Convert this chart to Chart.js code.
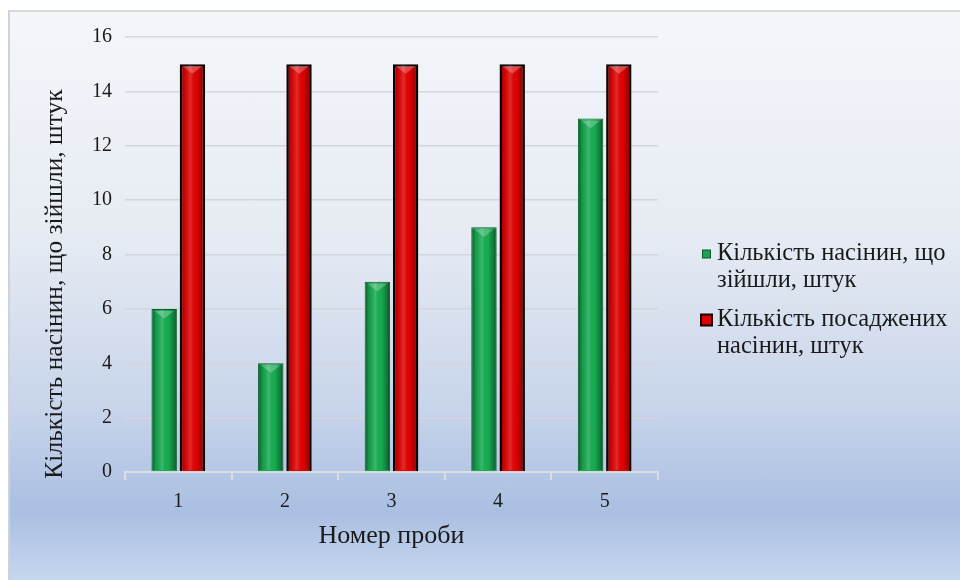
<!DOCTYPE html>
<html>
<head>
<meta charset="utf-8">
<script src="https://cdn.jsdelivr.net/npm/chart.js@4.4.1/dist/chart.umd.min.js"></script>
<style>
  html, body { margin: 0; padding: 0; background: #fff; }
  #box {
    position: absolute; left: 8px; top: 10px;
    width: 950px; height: 568px;
    border-left: 2px solid #cfd3d9; border-top: 2px solid #d6d9de;
    background: linear-gradient(to bottom, #f4f6fa 0%, #e6ebf3 40%, #c7d4ea 70%, #aabfe2 88%, #c6d6ee 100%);
  }
  canvas { display: block; }
</style>
</head>
<body>
<div id="box"><canvas id="chart" width="950" height="568"></canvas></div>
<script>
const categories = ["1", "2", "3", "4", "5"];
const sprouted = [6, 4, 7, 9, 13];
const planted = [15, 15, 15, 15, 15];
const seriesLabels = ["Кількість насінин, що зійшли, штук", "Кількість посаджених насінин, штук"];
const legendLines = [["Кількість насінин, що", "зійшли, штук"], ["Кількість посаджених", "насінин, штук"]];
const yTicks = [0, 2, 4, 6, 8, 10, 12, 14, 16];
const yTitle = "Кількість насінин, що зійшли, штук";
const xTitle = "Номер проби";

const serif = "'Liberation Serif', 'DejaVu Serif', serif";

// glossy cylinder look on each bar
const barShine = {
  id: "barShine",
  afterDatasetsDraw(chart) {
    const ctx = chart.ctx;
    chart.data.datasets.forEach((ds, i) => {
      chart.getDatasetMeta(i).data.forEach(bar => {
        const left = bar.x - bar.width / 2;
        const right = bar.x + bar.width / 2;
        const top = Math.min(bar.y, bar.base);
        const h = Math.abs(bar.base - bar.y);
        const g = ctx.createLinearGradient(left, 0, right, 0);
        g.addColorStop(0, "rgba(0,0,0,0.5)");
        g.addColorStop(0.18, "rgba(0,0,0,0.1)");
        g.addColorStop(0.42, "rgba(255,255,255,0.16)");
        g.addColorStop(0.65, "rgba(0,0,0,0)");
        g.addColorStop(0.88, "rgba(0,0,0,0.3)");
        g.addColorStop(1, "rgba(0,0,0,0.6)");
        ctx.save();
        ctx.fillStyle = g;
        ctx.fillRect(left + 1, top + 1, bar.width - 2, h - 2);
        // bevel on top face
        ctx.beginPath();
        ctx.moveTo(left + 3, top + 2);
        ctx.lineTo(right - 3, top + 2);
        ctx.lineTo(bar.x, top + bar.width * 0.38);
        ctx.closePath();
        ctx.fillStyle = "rgba(255,255,255,0.25)";
        ctx.fill();
        ctx.restore();
      });
    });
  }
};

// rotated y title, set a bit below the middle like in the source
const yTitlePlugin = {
  id: "yTitlePlugin",
  afterDraw(chart) {
    const ctx = chart.ctx;
    ctx.save();
    ctx.translate(45, 272);
    ctx.rotate(-Math.PI / 2);
    ctx.font = "25.5px " + serif;
    ctx.fillStyle = "#1a1a1a";
    ctx.textAlign = "center";
    ctx.textBaseline = "middle";
    ctx.fillText(yTitle, 0, 0);
    ctx.restore();
  }
};

// wrapped legend on the right
const sideLegend = {
  id: "sideLegend",
  afterDraw(chart) {
    const ctx = chart.ctx;
    const x = chart.chartArea.right + 43;
    const baseY = [248, 314];
    const marks = [
      { s: 8, fill: "#17a34f", line: "#0c5a2a", w: 1 },
      { s: 11, fill: "#d60000", line: "#1a0303", w: 2 }
    ];
    ctx.save();
    ctx.font = "24.5px " + serif;
    ctx.textBaseline = "alphabetic";
    chart.data.datasets.forEach((ds, i) => {
      const m = marks[i];
      const y0 = baseY[i];
      ctx.fillStyle = m.fill;
      ctx.fillRect(x + (11 - m.s) / 2, y0 - 6 - m.s / 2, m.s, m.s);
      ctx.strokeStyle = m.line;
      ctx.lineWidth = m.w;
      ctx.strokeRect(x + (11 - m.s) / 2, y0 - 6 - m.s / 2, m.s, m.s);
      ctx.fillStyle = "#1a1a1a";
      legendLines[i].forEach((line, k) => {
        ctx.fillText(line, x + 16, y0 + k * 27);
      });
    });
    ctx.restore();
  }
};

new Chart(document.getElementById("chart"), {
  type: "bar",
  data: {
    labels: categories,
    datasets: [
      {
        label: seriesLabels[0],
        data: sprouted,
        backgroundColor: "#17ad52",
        borderColor: "#0b5e2c",
        borderWidth: 1,
        categoryPercentage: 0.53,
        barPercentage: 0.9
      },
      {
        label: seriesLabels[1],
        data: planted,
        backgroundColor: "#e20202",
        borderColor: "#120202",
        borderWidth: 2.5,
        categoryPercentage: 0.53,
        barPercentage: 0.9
      }
    ]
  },
  options: {
    responsive: false,
    animation: false,
    layout: { padding: { top: 25, right: 302, left: 0, bottom: 0 } },
    plugins: {
      legend: { display: false },
      tooltip: { enabled: false }
    },
    scales: {
      x: {
        afterFit(scale) { scale.height = 108; },
        grid: { drawOnChartArea: false, drawTicks: true, tickLength: 8, color: "#dadde2", lineWidth: 2 },
        border: { display: true, color: "#dadde2", width: 2 },
        ticks: { color: "#1a1a1a", font: { family: serif, size: 20 }, padding: 10 },
        title: {
          display: true,
          text: xTitle,
          color: "#1a1a1a",
          font: { family: serif, size: 26 },
          padding: { top: 0, bottom: 28 }
        }
      },
      y: {
        min: 0,
        max: 16,
        afterFit(scale) { scale.width = 115; },
        afterBuildTicks(scale) { scale.ticks = yTicks.map(v => ({ value: v })); },
        grid: { drawTicks: false, color: "#d3d7dd", lineWidth: 1.5 },
        border: { display: false },
        ticks: { color: "#1a1a1a", font: { family: serif, size: 20 }, padding: 13 },
        title: { display: false }
      }
    }
  },
  plugins: [barShine, yTitlePlugin, sideLegend]
});
</script>
</body>
</html>
